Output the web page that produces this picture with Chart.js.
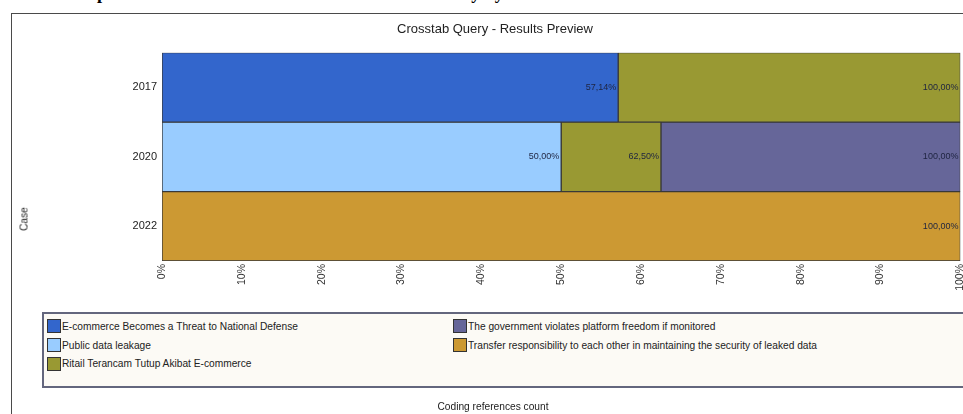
<!DOCTYPE html>
<html>
<head>
<meta charset="utf-8">
<title>Crosstab Query - Results Preview</title>
<script src="https://cdn.jsdelivr.net/npm/chart.js@4.4.1/dist/chart.umd.min.js"></script>
<style>
    html, body { margin: 0; padding: 0; background: #fff; width: 963px; height: 414px; overflow: hidden; }
    body { position: relative; font-family: "Liberation Sans", Arial, sans-serif; }
    #caption { position: absolute; left: 60px; top: -16px; font: bold 18px "Liberation Serif", serif; line-height: 18px; white-space: nowrap; color: #000; }
    #frame { position: absolute; left: 11px; top: 13px; width: 964px; height: 410px; border: 1px solid #4a4a4a; background: #fff; }
    #chartBox { position: absolute; left: 0; top: 0; width: 964px; height: 410px; }
    #chartTitle { position: absolute; left: 483px; top: 14px; transform: translate(-50%, -50%); font-size: 13px; color: #222; white-space: nowrap; }
    #yTitle { position: absolute; left: 12px; top: 205px; transform: translate(-50%, -50%) rotate(-90deg); font-size: 10.2px; color: #222; white-space: nowrap; }
    #xTitle { position: absolute; left: 481px; top: 392px; transform: translate(-50%, -50%); font-size: 10.2px; color: #222; white-space: nowrap; }
    #legend { position: absolute; left: 30px; top: 298px; width: 960px; height: 76px; box-sizing: border-box; background: #fcfaf5; border: 2px solid #63667d;
              display: grid; grid-auto-flow: column; grid-template-rows: repeat(3, 18.8px); grid-template-columns: 406px auto; padding: 3px 0 0 3px; }
    .item { display: flex; align-items: center; font-size: 10.2px; color: #222; white-space: nowrap; }
    .swatch { width: 12px; height: 12px; border: 1px solid #333; margin-right: 1px; flex: none; }
</style>
</head>
<body>
<div id="caption">Comparison of the Crosstab Results in Each Summary by Year</div>
<div id="frame">
    <div id="chartBox"><canvas id="crosstabChart"></canvas></div>
    <div id="chartTitle">Crosstab Query - Results Preview</div>
    <div id="yTitle">Case</div>
    <div id="xTitle">Coding references count</div>
    <div id="legend"></div>
</div>
<script>
// Cases on the vertical axis
const cases = ['2017', '2020', '2022'];

// Share of coding references per case (%)
const threatShare = [57.14, 0, 0];
const publicShare = [0, 50, 0];
const ritailShare = [42.86, 12.5, 0];
const governmentShare = [0, 37.5, 0];
const transferShare = [0, 0, 100];

const seriesNames = [
    'E-commerce Becomes a Threat to National Defense',
    'Public data leakage',
    'Ritail Terancam Tutup Akibat E-commerce',
    'The government violates platform freedom if monitored',
    'Transfer responsibility to each other in maintaining the security of leaked data'
];
const seriesValues = [threatShare, publicShare, ritailShare, governmentShare, transferShare];
const seriesColors = ['#3366cc', '#99ccff', '#999933', '#666699', '#cc9933'];

// Tick labels on the horizontal axis
const xTicks = [0, 10, 20, 30, 40, 50, 60, 70, 80, 90, 100];

const fontFamily = '"Liberation Sans", Arial, sans-serif';

// Draws the running total at the right end of each segment
const cumulativeLabels = {
    id: 'cumulativeLabels',
    afterDatasetsDraw(chart) {
        const ctx = chart.ctx;
        const totals = cases.map(() => 0);
        ctx.save();
        ctx.font = '9px ' + fontFamily;
        ctx.textAlign = 'right';
        ctx.textBaseline = 'middle';
        ctx.fillStyle = '#1e2440';
        chart.data.datasets.forEach((ds, i) => {
            const meta = chart.getDatasetMeta(i);
            seriesValues[i].forEach((v, j) => {
                if (!v) return;
                totals[j] += v;
                const bar = meta.data[j];
                const text = totals[j].toFixed(2).replace('.', ',') + '%';
                ctx.fillText(text, bar.x - 2, bar.y);
            });
        });
        ctx.restore();
    }
};

function buildLegend() {
    const box = document.getElementById('legend');
    seriesNames.forEach((name, i) => {
        const item = document.createElement('div');
        item.className = 'item';
        item.innerHTML = '<span class="swatch" style="background:' + seriesColors[i] + '"></span>' + name;
        box.appendChild(item);
    });
}

document.addEventListener('DOMContentLoaded', function() {
    buildLegend();
    const ctx = document.getElementById('crosstabChart').getContext('2d');

    new Chart(ctx, {
        type: 'bar',
        data: {
            labels: cases,
            datasets: seriesNames.map((name, i) => ({
                label: name,
                data: seriesValues[i].map(v => v || null),
                backgroundColor: seriesColors[i],
                borderColor: '#383838',
                borderWidth: 1,
                borderSkipped: false,
                barPercentage: 1,
                categoryPercentage: 1
            }))
        },
        options: {
            indexAxis: 'y',
            responsive: true,
            maintainAspectRatio: false,
            animation: false,
            layout: { padding: { left: 0, right: 12, top: 38.7, bottom: 0 } },
            scales: {
                x: {
                    stacked: true,
                    min: 0,
                    max: 100,
                    afterBuildTicks: function(scale) {
                        scale.ticks = xTicks.map(v => ({ value: v }));
                    },
                    afterFit: function(scale) { scale.height = 163; },
                    grid: { display: false, drawTicks: false },
                    border: { display: false },
                    ticks: {
                        autoSkip: false,
                        minRotation: 90,
                        maxRotation: 90,
                        padding: 3,
                        color: '#333',
                        font: { size: 10.5, family: fontFamily },
                        callback: v => v + '%'
                    }
                },
                y: {
                    stacked: true,
                    afterFit: function(scale) { scale.width = 150; },
                    grid: { display: false, drawTicks: false },
                    border: { display: false },
                    ticks: {
                        padding: 5,
                        color: '#222',
                        font: { size: 11, family: fontFamily }
                    }
                }
            },
            plugins: {
                legend: { display: false },
                tooltip: { enabled: false },
                title: { display: false }
            }
        },
        plugins: [cumulativeLabels]
    });
});
</script>
</body>
</html>
